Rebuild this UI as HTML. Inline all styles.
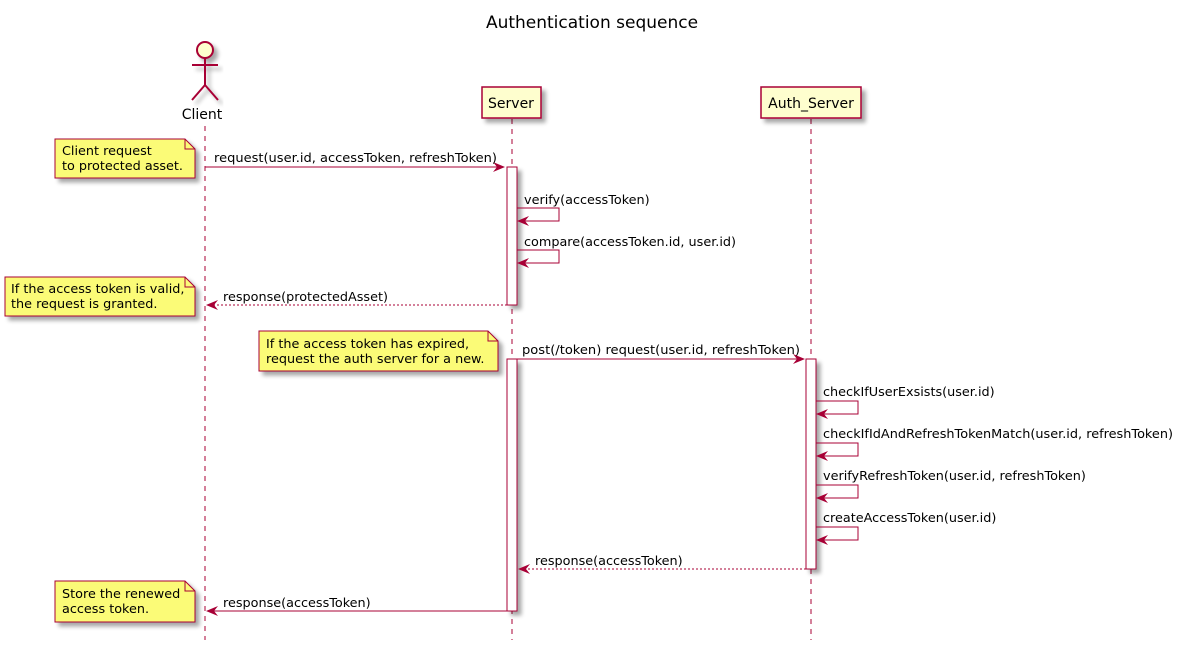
<!DOCTYPE html>
<html><head><meta charset="utf-8"><style>
body{margin:0;background:#fff}
svg{display:block}
text{font-family:"DejaVu Sans","Liberation Sans",sans-serif;font-size:12.8px;fill:#000}
</style></head><body>
<svg width="1178" height="648" viewBox="0 0 1178 648" xmlns="http://www.w3.org/2000/svg">
<defs>
<filter id="sh" x="-10%" y="-10%" width="130%" height="140%"><feGaussianBlur in="SourceAlpha" stdDeviation="2"/><feOffset dx="4" dy="4"/><feComponentTransfer><feFuncA type="linear" slope="0.35"/></feComponentTransfer><feMerge><feMergeNode/><feMergeNode in="SourceGraphic"/></feMerge></filter>
</defs>
<text x="592" y="28" text-anchor="middle" style="font-size:17px">Authentication sequence</text>

<g stroke="#A80036" stroke-width="1" stroke-dasharray="5,5">
<line x1="205" y1="126" x2="205" y2="640"/>
<line x1="512" y1="119" x2="512" y2="640"/>
<line x1="811" y1="119" x2="811" y2="640"/>
</g>

<g stroke="#A80036" stroke-width="2" fill="none" filter="url(#sh)">
<circle cx="205" cy="50" r="8" fill="#FEFECE"/>
<line x1="205" y1="58" x2="205" y2="85"/>
<line x1="192" y1="65" x2="218" y2="65"/>
<line x1="205" y1="85" x2="192" y2="100"/>
<line x1="205" y1="85" x2="218" y2="100"/>
</g>
<text x="202" y="119" text-anchor="middle" style="font-size:14px">Client</text>

<g fill="#FEFECE" stroke="#A80036" stroke-width="1.5" filter="url(#sh)">
<rect x="482" y="87" width="59" height="31"/>
<rect x="761" y="87" width="100" height="31"/>
</g>
<text x="511" y="108" text-anchor="middle" style="font-size:14px">Server</text>
<text x="811" y="108" text-anchor="middle" style="font-size:14px">Auth_Server</text>

<g fill="#fff" stroke="#A80036" stroke-width="1" filter="url(#sh)">
<rect x="507" y="167" width="10" height="138"/>
<rect x="507" y="359" width="10" height="252"/>
<rect x="806" y="359" width="10" height="210"/>
</g>

<g fill="#FBFB77" stroke="#A80036" stroke-width="1" filter="url(#sh)">
<path d="M55,139 H185 L195,149 V178 H55 Z"/>
<path d="M5,277 H185 L195,287 V316 H5 Z"/>
<path d="M259,331 H488 L498,341 V371 H259 Z"/>
<path d="M55,581 H185 L195,591 V622 H55 Z"/>
</g>
<g fill="none" stroke="#A80036" stroke-width="1">
<path d="M185,139 V149 H195"/><path d="M185,277 V287 H195"/><path d="M488,331 V341 H498"/><path d="M185,581 V591 H195"/>
</g>
<text x="62" y="155">Client request</text><text x="62" y="170">to protected asset.</text>
<text x="11" y="293">If the access token is valid,</text><text x="11" y="308">the request is granted.</text>
<text x="266" y="348">If the access token has expired,</text><text x="266" y="363">request the auth server for a new.</text>
<text x="62" y="598">Store the renewed</text><text x="62" y="613">access token.</text>

<g stroke="#A80036" stroke-width="1" fill="none">
<line x1="205" y1="167" x2="504" y2="167"/>
<path d="M517,208 H559 V221 H518"/>
<path d="M517,250 H559 V263 H518"/>
<line x1="507" y1="305" x2="207" y2="305" stroke-dasharray="2,2"/>
<line x1="517" y1="359" x2="803" y2="359"/>
<path d="M816,401 H858 V414 H817"/>
<path d="M816,443 H858 V456 H817"/>
<path d="M816,485 H858 V498 H817"/>
<path d="M816,527 H858 V540 H817"/>
<line x1="806" y1="569" x2="519" y2="569" stroke-dasharray="2,2"/>
<line x1="507" y1="611" x2="207" y2="611"/>
</g>
<g fill="#A80036">
<path d="M505,167 L493,162 L497,167 L493,172 Z"/>
<path d="M517,221 L529,216 L525,221 L529,226 Z"/>
<path d="M517,263 L529,258 L525,263 L529,268 Z"/>
<path d="M206,305 L218,300 L214,305 L218,310 Z"/>
<path d="M805,359 L793,354 L797,359 L793,364 Z"/>
<path d="M816,414 L828,409 L824,414 L828,419 Z"/>
<path d="M816,456 L828,451 L824,456 L828,461 Z"/>
<path d="M816,498 L828,493 L824,498 L828,503 Z"/>
<path d="M816,540 L828,535 L824,540 L828,545 Z"/>
<path d="M518,569 L530,564 L526,569 L530,574 Z"/>
<path d="M206,611 L218,606 L214,611 L218,616 Z"/>
</g>
<text x="214" y="162" textLength="283" lengthAdjust="spacingAndGlyphs">request(user.id, accessToken, refreshToken)</text>
<text x="524" y="204">verify(accessToken)</text>
<text x="524" y="246">compare(accessToken.id, user.id)</text>
<text x="223" y="301">response(protectedAsset)</text>
<text x="522" y="354" textLength="278" lengthAdjust="spacingAndGlyphs">post(/token) request(user.id, refreshToken)</text>
<text x="823" y="396">checkIfUserExsists(user.id)</text>
<text x="823" y="438" textLength="350" lengthAdjust="spacingAndGlyphs">checkIfIdAndRefreshTokenMatch(user.id, refreshToken)</text>
<text x="823" y="480">verifyRefreshToken(user.id, refreshToken)</text>
<text x="823" y="522">createAccessToken(user.id)</text>
<text x="535" y="565">response(accessToken)</text>
<text x="223" y="607">response(accessToken)</text>
</svg>
</body></html>
